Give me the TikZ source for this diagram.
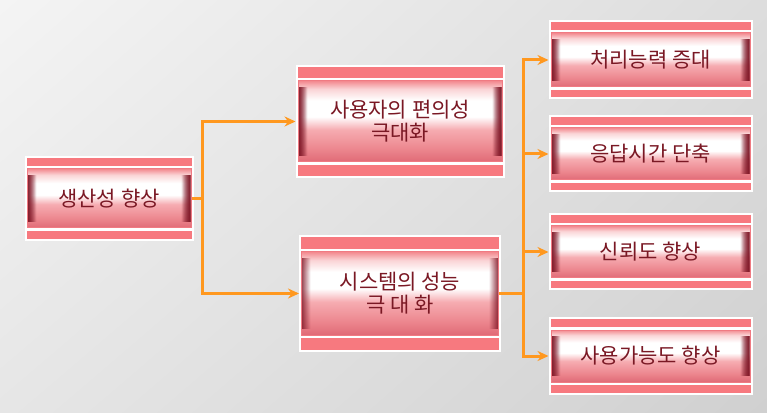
\documentclass[tikz,border=0pt]{standalone}
\usepackage{fontspec}
\setmainfont{Noto Sans CJK KR}
\usepackage{tikz}
\usetikzlibrary{
    arrows.meta,
    positioning,
    shadings
}
\usepackage{xcolor}
\definecolor{inkred}{HTML}{7A1824}
\definecolor{edgered}{HTML}{7E1626}
\definecolor{cellrim}{HTML}{F07A82}
\definecolor{celltop}{HTML}{F38A90}
\definecolor{cellhi}{HTML}{FAD4D6}
\definecolor{celllow}{HTML}{F6ACB1}
\definecolor{cellmid}{HTML}{EC868E}
\definecolor{cellbot}{HTML}{E06A76}
\definecolor{bandred}{HTML}{F7797F}
\definecolor{wire}{HTML}{FF981F}
\definecolor{bgtl}{HTML}{F4F4F4}
\definecolor{bgtr}{HTML}{DDDDDD}
\definecolor{bgbl}{HTML}{E6E6E6}
\definecolor{bgbr}{HTML}{D0D0D0}
\pgfdeclareverticalshading{cellshade}{100bp}{
    color(0bp)=(cellbot); color(25bp)=(cellbot); color(33bp)=(cellmid);
    color(45bp)=(celllow); color(53bp)=(white); color(63bp)=(white);
    color(70bp)=(cellhi); color(75bp)=(celltop); color(100bp)=(celltop)}
\pgfdeclarelayer{canvas}
\pgfdeclarelayer{frames}
\pgfsetlayers{canvas,frames,main}
\tikzstyle{cell} = [
    rectangle,
    draw=cellrim,
    line width=1pt,
    shading=cellshade,
    text=inkred,
    inner sep=0pt,
    align=center,
    font=\fontsize{21}{23}\selectfont,
    path picture={
        \foreach \i [evaluate=\i as \a using 0.85-0.09*\i] in {1,...,9} {
            \draw[edgered, draw opacity=\a, line width=1.1pt]
                ([xshift=\i pt, yshift=6pt]path picture bounding box.south west) -- ([xshift=\i pt, yshift=-6pt]path picture bounding box.north west);
            \draw[edgered, draw opacity=\a, line width=1.1pt]
                ([xshift=-\i pt, yshift=6pt]path picture bounding box.south east) -- ([xshift=-\i pt, yshift=-6pt]path picture bounding box.north east);
        }
    }
]
\tikzstyle{band} = [
    fill=bandred
]
\tikzstyle{cellframe} = [
    fill=white
]
\tikzstyle{link} = [
    -{Stealth[length=11pt, width=10pt]},
    line width=3pt,
    draw=wire,
    shorten >=2pt
]

\begin{document}
\begin{tikzpicture}[x=1pt, y=1pt]
    \begin{pgfonlayer}{canvas}
        \shade[upper left=bgtl, upper right=bgtr, lower left=bgbl, lower right=bgbr] (0,0) rectangle (767,412);
    \end{pgfonlayer}
    \useasboundingbox (0,0) rectangle (767,412);

    % Goal
    \node[cell, minimum width=164pt, minimum height=59pt] (gain) at (109,213.5) {생산성 향상};

    % Sub goals
    \node[cell, minimum width=204pt, minimum height=81pt, above right=6pt and 106pt of gain] (ease) {사용자의 편의성\\극대화};
    \node[cell, minimum width=197pt, minimum height=83pt, below=89pt of ease] (perf) {시스템의 성능\\극 대 화};

    % Results
    \node[cell, minimum width=199pt, minimum height=54pt] (thru) at (650.5,352) {처리능력 증대};
    \node[cell, minimum width=199pt, minimum height=52pt, below=40pt of thru] (resp) {응답시간 단축};
    \node[cell, minimum width=199pt, minimum height=52pt, below=45pt of resp] (trust) {신뢰도 향상};
    \node[cell, minimum width=199pt, minimum height=52pt, below=51pt of trust] (avail) {사용가능도 향상};

    % Frames and bands
    \begin{pgfonlayer}{frames}
        \foreach \n/\t in {gain/8, ease/11, perf/12, thru/7.5, resp/7.5, trust/7.5, avail/7.5} {
            \fill[cellframe] ([xshift=-2pt, yshift={(\t+4.5)*1pt}]\n.north west) rectangle ([xshift=2pt, yshift={-(\t+4.5)*1pt}]\n.south east);
            \fill[band] ([yshift=2.5pt]\n.north west) rectangle ([yshift={(\t+2.5)*1pt}]\n.north east);
            \fill[band] ([yshift=-2.5pt]\n.south west) rectangle ([yshift={-(\t+2.5)*1pt}]\n.south east);
        }
    \end{pgfonlayer}

    % Connectors
    \coordinate (fork1) at (202,0);
    \coordinate (fork2) at (523,0);
    \draw[link] (gain.east) -- (gain.east -| fork1) |- (ease.west);
    \draw[link] (gain.east) -- (gain.east -| fork1) |- (perf.west);
    \foreach \n in {thru, resp, trust, avail}
        \draw[link] (perf.east) -- (perf.east -| fork2) |- (\n.west);
\end{tikzpicture}
\end{document}
